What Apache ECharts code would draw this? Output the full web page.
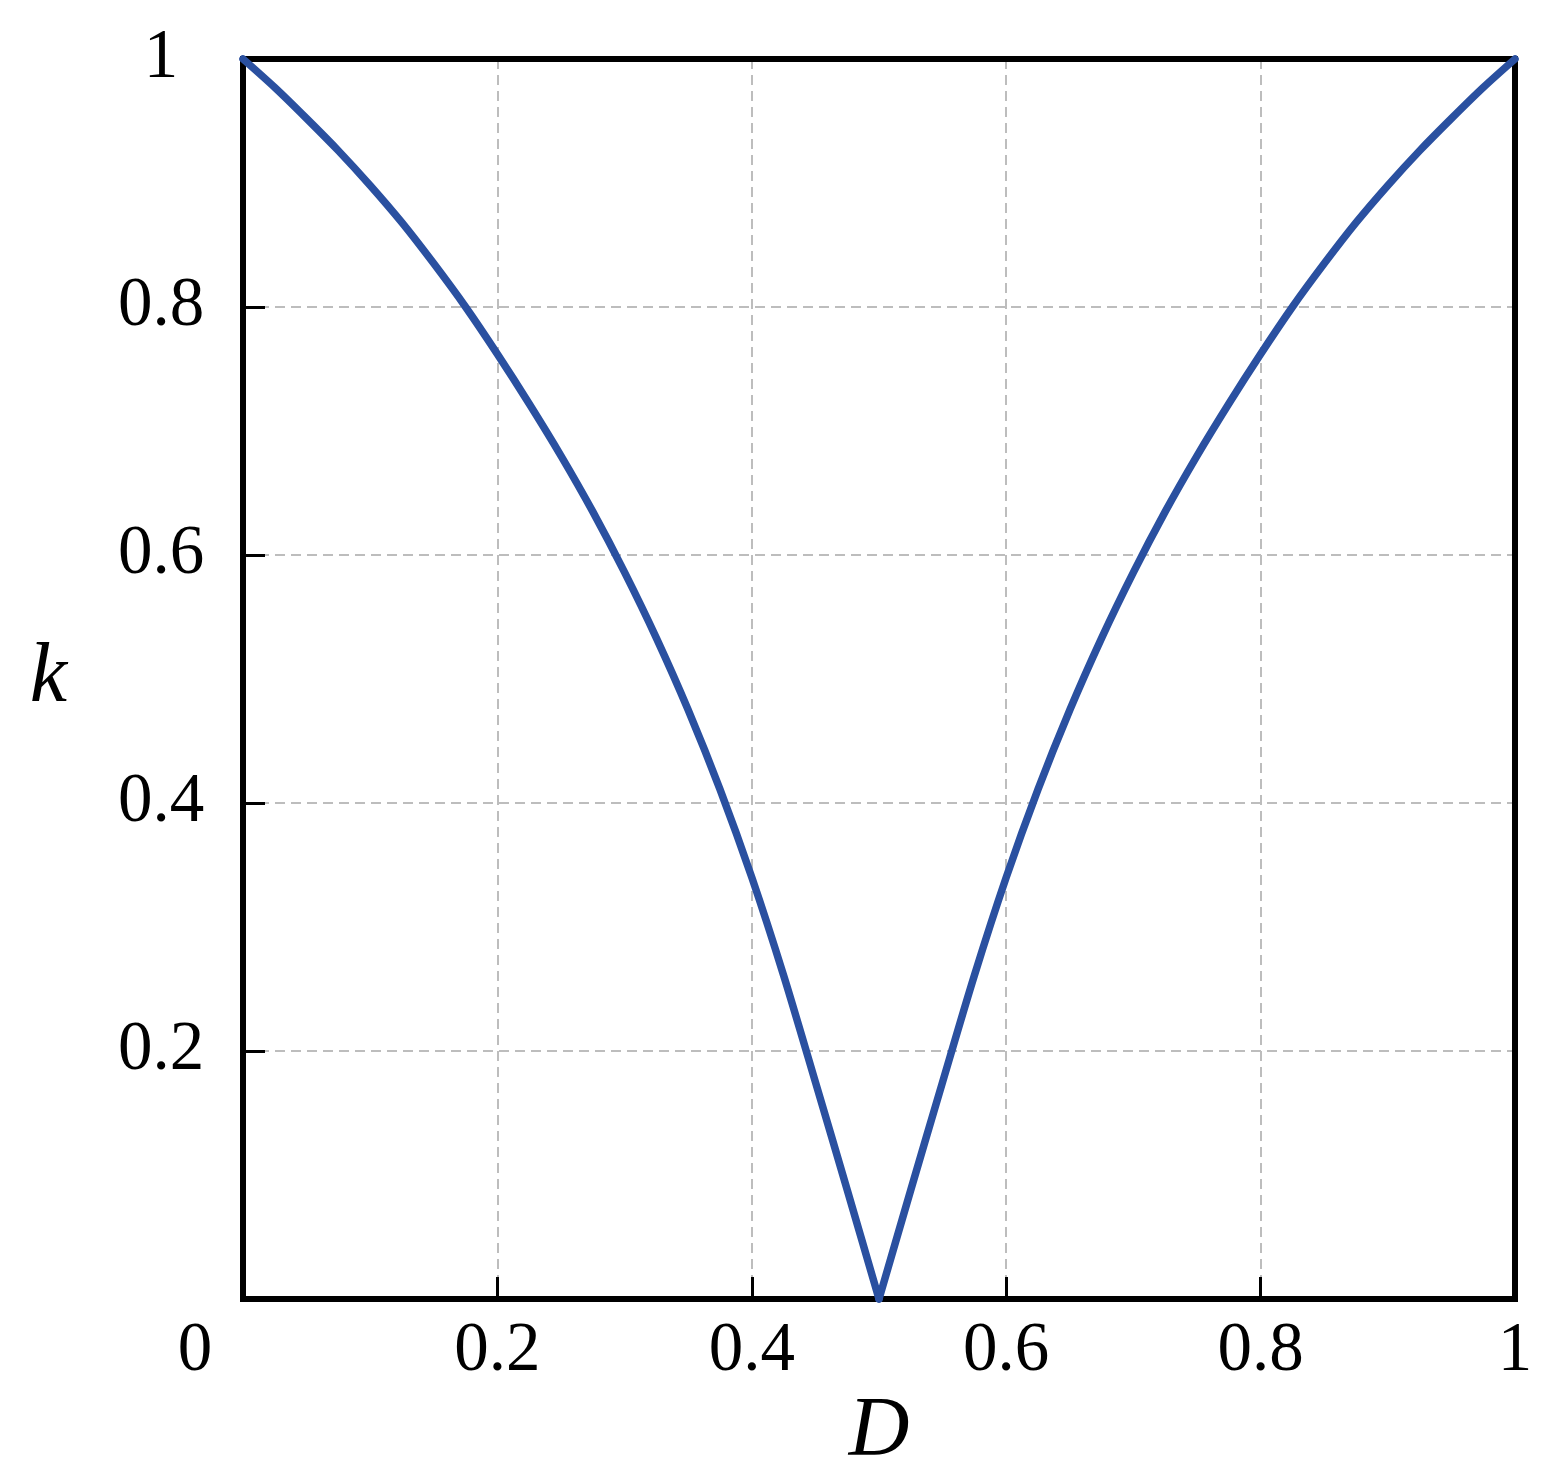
<!DOCTYPE html>
<html>
<head>
<meta charset="utf-8">
<script src="https://cdn.jsdelivr.net/npm/echarts@6/dist/echarts.min.js"></script>
<style>
html,body{margin:0;padding:0;background:#fff;}
#chart{width:1560px;height:1474px;}
</style>
</head>
<body>
<div id="chart"></div>
<script>
// Duty ratio D (x) and coefficient k (y)
var dValues = [0,0.025,0.05,0.075,0.1,0.125,0.15,0.175,0.2,0.225,0.25,0.275,0.3,0.325,0.35,0.375,0.4,0.425,0.45,0.475,0.5,
               0.525,0.55,0.575,0.6,0.625,0.65,0.675,0.7,0.725,0.75,0.775,0.8,0.825,0.85,0.875,0.9,0.925,0.95,0.975,1];
var kValues = [1.000,0.977,0.952,0.926,0.898,0.868,0.835,0.800,0.762,0.722,0.680,0.635,0.586,0.533,0.475,0.411,0.340,0.261,0.175,0.088,0.000,
               0.088,0.175,0.261,0.340,0.411,0.475,0.533,0.586,0.635,0.680,0.722,0.762,0.800,0.835,0.868,0.898,0.926,0.952,0.977,1.000];
var xTicks = [0,0.2,0.4,0.6,0.8,1];
var yTicks = [0,0.2,0.4,0.6,0.8,1];
var xName = 'D';
var yName = 'k';

var FONT = '"Liberation Serif","Times New Roman",serif';
var points = dValues.map(function(d,i){return [d,kValues[i]];});
var mid = dValues.indexOf(0.5);
var leftPts = points.slice(0, mid+1);
var rightPts = points.slice(mid);

var LINE = {color:'#2a50a0',width:7.5,join:'round',cap:'round'};
var frameAxisLine = {show:true,onZero:false,lineStyle:{color:'#000',width:6,cap:'square'}};
var gridLine = {color:'#bdbdbd',width:2,type:[10,6]};

var chart = echarts.init(document.getElementById('chart'), null, {renderer:'canvas'});
chart.setOption({
  backgroundColor:'#fff',
  animation:false,
  grid:{left:243,top:59,width:1272,height:1240,show:false,containLabel:false,outerBoundsMode:'none'},
  xAxis:[{
    type:'value',min:xTicks[0],max:xTicks[xTicks.length-1],interval:0.2,position:'bottom',
    name:xName,nameLocation:'middle',nameGap:80,
    nameTextStyle:{fontFamily:FONT,fontStyle:'italic',fontSize:84,color:'#000'},
    axisLine:frameAxisLine,
    axisTick:{show:true,inside:true,length:22,lineStyle:{color:'#000',width:3}},
    axisLabel:{
      margin:18,fontFamily:FONT,fontSize:69,color:'#000',
      formatter:function(v){ if(v===0) return '{z|0}'; return String(+v.toFixed(1)); },
      rich:{z:{fontFamily:FONT,fontSize:69,color:'#000',padding:[0,96,0,0]}}
    },
    splitLine:{show:true,showMinLine:false,showMaxLine:false,lineStyle:gridLine}
  },{
    type:'value',min:xTicks[0],max:xTicks[xTicks.length-1],position:'top',
    axisLine:frameAxisLine,axisTick:{show:false},axisLabel:{show:false},splitLine:{show:false}
  }],
  yAxis:[{
    type:'value',min:yTicks[0],max:yTicks[yTicks.length-1],interval:0.2,position:'left',
    name:yName,nameLocation:'middle',nameGap:176,nameRotate:0,
    nameTextStyle:{fontFamily:FONT,fontStyle:'italic',fontSize:84,color:'#000'},
    axisLine:frameAxisLine,
    axisTick:{show:true,inside:true,length:22,lineStyle:{color:'#000',width:3}},
    axisLabel:{
      margin:82,align:'center',fontFamily:FONT,fontSize:69,color:'#000',
      formatter:function(v){ if(v===0) return ''; return String(+v.toFixed(1)); }
    },
    splitLine:{show:true,showMinLine:false,showMaxLine:false,lineStyle:gridLine}
  },{
    type:'value',min:yTicks[0],max:yTicks[yTicks.length-1],position:'right',
    axisLine:frameAxisLine,axisTick:{show:false},axisLabel:{show:false},splitLine:{show:false}
  }],
  series:[{
    type:'line',data:leftPts,showSymbol:false,smooth:0.3,clip:false,z:5,lineStyle:LINE
  },{
    type:'line',data:rightPts,showSymbol:false,smooth:0.3,clip:false,z:5,lineStyle:LINE
  }]
});
</script>
</body>
</html>
